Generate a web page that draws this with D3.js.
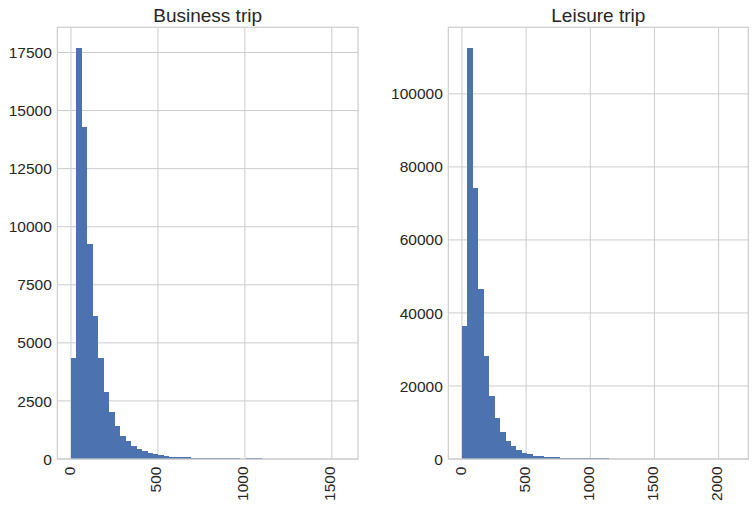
<!DOCTYPE html>
<html>
<head>
<meta charset="utf-8">
<script src="https://cdn.jsdelivr.net/npm/d3@7"></script>
<style>
  body { margin: 0; background: #fff; }
  svg text { font-family: "Liberation Sans", Arial, sans-serif; fill: #262626; }
</style>
</head>
<body>
<div id="chart"></div>
<script>
// counts per bin (50 equal bins each)
var businessCounts = [4350, 17700, 14310, 9270, 6160, 4350, 2890, 2030, 1420, 990,
  780, 560, 430, 345, 260, 215, 170, 130, 86, 86,
  86, 86, 43, 43, 43, 43, 43, 43, 43, 43,
  43, 0, 43, 43, 43, 0, 0, 0, 0, 0,
  0, 0, 0, 0, 0, 0, 0, 0, 0, 1];
var businessRange = [0, 1572];
var businessTicksX = [0, 500, 1000, 1500];
var businessTicksY = [0, 2500, 5000, 7500, 10000, 12500, 15000, 17500];

var leisureCounts = [36390, 112600, 74150, 46510, 28180, 17240, 11220, 7390, 4925, 3560,
  2460, 1640, 1370, 820, 820, 550, 550, 550, 270, 270,
  270, 270, 270, 270, 270, 270, 270, 20, 10, 5,
  5, 0, 0, 0, 0, 0, 0, 0, 0, 0,
  0, 0, 0, 0, 0, 0, 0, 0, 0, 1];
var leisureRange = [0, 2125];
var leisureTicksX = [0, 500, 1000, 1500, 2000];
var leisureTicksY = [0, 20000, 40000, 60000, 80000, 100000];

var titles = ["Business trip", "Leisure trip"];

var width = 755, height = 507;
var top_y = 27.3, bottom_y = 459;
var barColor = '#4c72b0';
var gridColor = '#cccccc';

var svg = d3.select('#chart').append('svg')
  .attr('width', width)
  .attr('height', height);

function drawPanel(left, right, title, counts, range, ticksX, ticksY){
  var span = range[1] - range[0];
  var x = d3.scaleLinear()
    .domain([range[0] - span * 0.05, range[1] + span * 0.05])
    .range([left, right]);
  var y = d3.scaleLinear()
    .domain([0, d3.max(counts) * 1.05])
    .range([bottom_y, top_y]);

  var binw = span / counts.length;
  var g = svg.append('g');

  // grid under the bars
  g.selectAll('.vgrid').data(ticksX).enter().append('line')
    .attr('x1', function(d){ return x(d); })
    .attr('x2', function(d){ return x(d); })
    .attr('y1', top_y).attr('y2', bottom_y)
    .attr('stroke', gridColor).attr('stroke-width', 1);
  g.selectAll('.hgrid').data(ticksY).enter().append('line')
    .attr('x1', left).attr('x2', right)
    .attr('y1', function(d){ return y(d); })
    .attr('y2', function(d){ return y(d); })
    .attr('stroke', gridColor).attr('stroke-width', 1);

  g.selectAll('.bar').data(counts).enter().append('rect')
    .attr('class', 'bar')
    .attr('x', function(d, i){ return x(range[0] + i * binw); })
    .attr('width', function(d, i){ return x(range[0] + (i + 1) * binw) - x(range[0] + i * binw); })
    .attr('y', function(d){ return y(d); })
    .attr('height', function(d){ return bottom_y - y(d); })
    .attr('fill', barColor)
    .attr('shape-rendering', 'crispEdges');

  // frame
  g.append('rect')
    .attr('x', left).attr('y', top_y)
    .attr('width', right - left).attr('height', bottom_y - top_y)
    .attr('fill', 'none').attr('stroke', gridColor).attr('stroke-width', 1.2);

  // y tick labels
  g.selectAll('.ylab').data(ticksY).enter().append('text')
    .attr('x', left - 5.5)
    .attr('y', function(d){ return y(d); })
    .attr('dy', '0.36em')
    .attr('text-anchor', 'end')
    .style('font-size', '15.5px')
    .text(function(d){ return d; });

  // x tick labels, rotated
  g.selectAll('.xlab').data(ticksX).enter().append('text')
    .attr('transform', function(d){ return 'translate(' + x(d) + ',' + (bottom_y + 7.5) + ') rotate(-90)'; })
    .attr('dy', '0.23em')
    .attr('text-anchor', 'end')
    .style('font-size', '15.5px')
    .text(function(d){ return d; });

  g.append('text')
    .attr('x', (left + right) / 2)
    .attr('y', top_y - 5.8)
    .attr('text-anchor', 'middle')
    .style('font-size', '19px')
    .text(title);
}

drawPanel(57.3, 358, titles[0], businessCounts, businessRange, businessTicksX, businessTicksY);
drawPanel(448.3, 748.3, titles[1], leisureCounts, leisureRange, leisureTicksX, leisureTicksY);
</script>
</body>
</html>
